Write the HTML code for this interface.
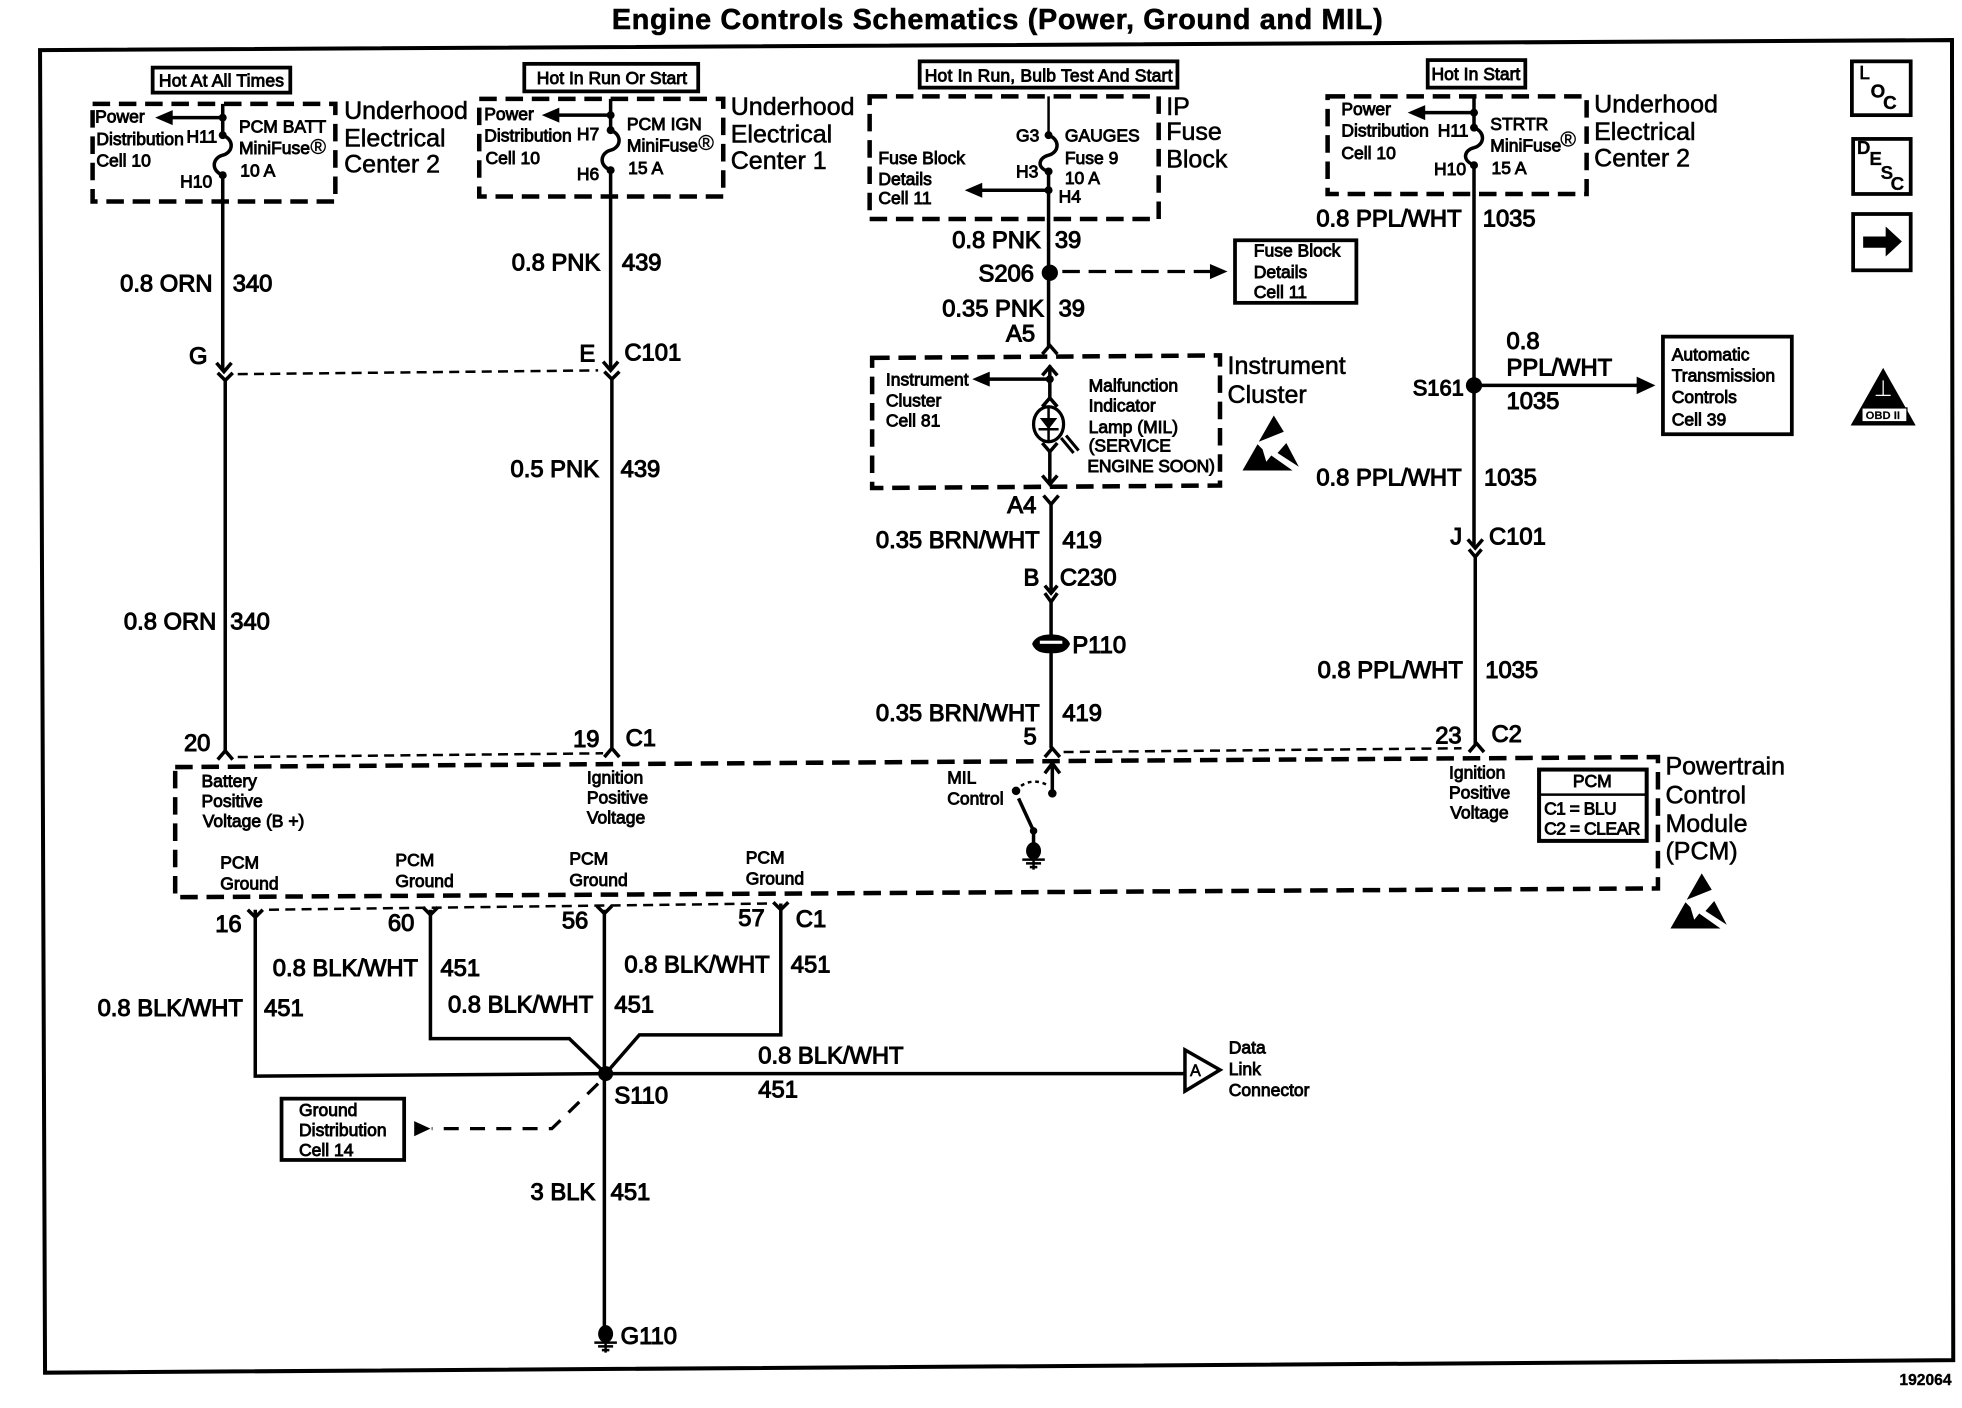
<!DOCTYPE html>
<html><head><meta charset="utf-8"><title>Engine Controls Schematics</title>
<style>
html,body{margin:0;padding:0;background:#fff}
svg{display:block}
text{font-family:"Liberation Sans",sans-serif;fill:#000;stroke:#000}
.s{font-size:14px;stroke-width:.7}
.m{font-size:19px;stroke-width:.85}
.l{font-size:20px;stroke-width:.45}
.w{fill:none;stroke:#000;stroke-width:2.8}
.t{fill:none;stroke:#000;stroke-width:2}
.d{fill:none;stroke:#000;stroke-width:3.6;stroke-dasharray:14 7}
.c{fill:none;stroke:#000;stroke-width:2;stroke-dasharray:8 5}
.b{fill:#fff;stroke:#000;stroke-width:3}
.f{fill:#000;stroke:none}
</style></head><body>
<svg xmlns="http://www.w3.org/2000/svg" width="1962" height="1408" viewBox="0 0 1568 1125.2">
<defs>
<g id="esd">
<path class="f" d="M26 0L34 13L14 21Z"/>
<path class="f" d="M36 22L46 41L29 30Z"/>
<path class="f" d="M13 23L1 44L41 44L24 32L20 37L17 27Z"/>
</g>
<g id="gnd">
<ellipse class="f" cx="0" cy="0" rx="6" ry="7"/>
<path fill="none" stroke="#000" stroke-width="2" d="M-9 7H9M-6 10H6M-3 13H3M0 6V15"/>
</g>
</defs>

<text x="489" y="23" font-size="23" font-weight="bold" textLength="616" style="stroke-width:.45">Engine Controls Schematics (Power, Ground and MIL)</text>
<path fill="none" stroke="#000" stroke-width="3.2" d="M32 40L1560 32L1561 1087L36 1097Z"/>
<text x="1518" y="1107" font-size="12.5" font-weight="bold" style="stroke-width:.3">192064</text>

<!-- hot labels -->
<rect class="b" x="122" y="54" width="110" height="20"/><text class="s" x="127" y="69" textLength="100">Hot At All Times</text>
<rect class="b" x="419" y="51" width="139" height="22"/><text class="s" x="429" y="67" textLength="120">Hot In Run Or Start</text>
<rect class="b" x="735" y="49" width="206" height="21"/><text class="s" x="739" y="65" textLength="198">Hot In Run, Bulb Test And Start</text>
<rect class="b" x="1141" y="48" width="78" height="22"/><text class="s" x="1144" y="64" textLength="71">Hot In Start</text>

<!-- dashed boxes -->
<path class="d" d="M74 83H268V161H74Z"/>
<path class="d" d="M383 79H578V157H383Z"/>
<path class="d" d="M695 77H926V175H695Z"/>
<path class="d" d="M1061 77H1268V155H1061Z"/>
<path class="d" d="M697 286L975 284V388L697 390Z"/>
<path class="d" d="M140 613L1325 605V710L140 717Z"/>

<!-- wire 340 -->
<path class="w" d="M178 83V108M178 140V296M180 303V601"/>
<path class="w" d="M178 108C188 112 186 122 178 124C170 126 168 136 178 140"/>
<circle class="f" cx="178" cy="94" r="3.2"/><circle class="f" cx="178" cy="108" r="3.2"/><circle class="f" cx="178" cy="140" r="3.2"/>
<path class="w" d="M178 94H132"/><path class="f" d="M124 94L138 88V100Z"/>
<path class="w" d="M173 290L179 297L185 290M174 298L180 304L186 298"/>
<path class="w" d="M174 607L180 600L186 607"/>

<!-- wire 439 -->
<path class="w" d="M488 79V104M488 136V295M489 302V599"/>
<path class="w" d="M488 104C498 108 496 118 488 120C480 122 478 132 488 136"/>
<circle class="f" cx="488" cy="92" r="3.2"/><circle class="f" cx="488" cy="104" r="3.2"/><circle class="f" cx="488" cy="136" r="3.2"/>
<path class="w" d="M488 92H441"/><path class="f" d="M433 92L447 86V98Z"/>
<path class="w" d="M482 289L488 296L494 289M483 297L489 303L495 297"/>
<path class="w" d="M483 605L489 598L495 605"/>
<path class="c" d="M190 299L478 296"/>
<path class="c" d="M190 605L482 602"/>

<!-- wire 39 / 419 -->
<path class="t" d="M838 77V108"/>
<path class="w" d="M838 137V278"/>
<path class="w" d="M838 108C848 112 846 122 838 124C830 126 828 134 838 137"/>
<circle class="f" cx="838" cy="108" r="3.2"/><circle class="f" cx="838" cy="137" r="3.2"/><circle class="f" cx="838" cy="152" r="3.2"/>
<path class="w" d="M838 152H780"/><path class="f" d="M771 152L785 146V158Z"/>
<circle class="f" cx="839" cy="218" r="6.5"/>
<path class="d" style="stroke-width:2.6" d="M849 217H968"/><path class="f" d="M981 217L967 211V223Z"/>
<path class="w" d="M833 283L839 276L845 283"/>
<path class="w" d="M839 292V318"/><path class="w" d="M833 300L839 293L845 300"/>
<circle class="f" cx="839" cy="303" r="3.2"/>
<path class="w" d="M839 303H786"/><path class="f" d="M777 303L791 297V309Z"/>
<path class="w" d="M833 325L839 318L845 325"/>
<ellipse cx="838" cy="339" rx="12" ry="14" fill="#fff" stroke="#000" stroke-width="2.6"/>
<path class="f" d="M831 334H845L838 343Z"/>
<path class="t" d="M838 326V352M830 343H846"/>
<path fill="none" stroke="#000" stroke-width="2.4" d="M848 350L858 362M852 348L862 360"/>
<path class="w" d="M833 354L839 361L845 354"/>
<path class="w" d="M839 361V387M833 380L839 387L845 380"/>
<path class="w" d="M834 396L840 403L846 396"/>
<path class="w" d="M840 403V472M835 468L840 474L845 468M835 474L840 481L845 474"/>
<path class="w" d="M840 481V508M840 520V598"/>
<path class="f" d="M825 514C828 508 835 507 840 507C845 507 852 508 855 514L855 515C852 522 845 522 840 522C835 522 828 522 825 515Z"/>
<rect x="831" y="512" width="18" height="2.5" fill="#fff"/>
<path class="w" d="M835 605L841 598L847 605"/>
<path class="c" d="M850 601L1168 598"/>

<!-- MIL control -->
<path class="w" d="M841 634V612M835 618L841 610L847 618"/>
<circle class="f" cx="841" cy="634" r="3.4"/>
<circle class="f" cx="812" cy="632" r="3.4"/>
<path fill="none" stroke="#000" stroke-width="2" stroke-dasharray="3 3" d="M816 628C822 624 830 623 838 628"/>
<path class="w" d="M814 638L826 664V680"/>
<circle class="f" cx="826" cy="664" r="3"/>
<use href="#gnd" x="826" y="680"/>

<!-- wire 1035 -->
<path class="w" d="M1178 76V102M1178 132V437M1179 444V595"/>
<path class="w" d="M1178 102C1188 106 1186 116 1178 118C1170 120 1168 128 1178 132"/>
<circle class="f" cx="1178" cy="90" r="3.2"/><circle class="f" cx="1178" cy="102" r="3.2"/><circle class="f" cx="1178" cy="132" r="3.2"/>
<path class="w" d="M1178 90H1134"/><path class="f" d="M1125 90L1139 84V96Z"/>
<circle class="f" cx="1178" cy="308" r="6.5"/>
<path class="w" d="M1178 308H1310"/><path class="f" d="M1323 308L1308 301V315Z"/>
<path class="w" d="M1173 431L1179 438L1185 431M1174 439L1179 445L1184 439"/>
<path class="w" d="M1174 601L1180 594L1186 601"/>

<!-- ground wires -->
<path class="w" d="M204 727V860L484 858H946"/>
<path class="w" d="M344 727V830H455L484 858"/>
<path class="w" d="M483 727V1060"/>
<path class="w" d="M624 722V827H511L484 858"/>
<path class="w" d="M198 727L204 733L210 727M338 725L344 731L350 725M477 724L483 730L489 724M618 721L624 727L630 721"/>
<path class="c" d="M215 727L618 722"/>
<circle class="f" cx="484" cy="858" r="6"/>
<path class="d" style="stroke-width:2.6;stroke-dasharray:12 9" d="M478 866L441 902H345"/>
<path class="f" d="M344 902L331 896V908Z"/>
<path fill="#fff" stroke="#000" stroke-width="2.8" d="M947 839L975 855L947 872Z"/>
<text x="951" y="860" font-size="13" style="stroke-width:.5">A</text>
<use href="#gnd" x="484" y="1066"/>

<!-- boxes -->
<rect class="b" x="987" y="192" width="97" height="50"/>
<rect class="b" x="1329" y="269" width="103" height="78"/>
<rect class="b" x="225" y="878" width="98" height="49"/>
<rect x="1230" y="615" width="86" height="57" fill="#fff" stroke="#000" stroke-width="3.2"/>
<path class="t" d="M1230 635H1316"/>

<rect class="b" x="1480" y="49" width="47" height="43"/>
<rect class="b" x="1481" y="111" width="46" height="44"/>
<rect class="b" x="1481" y="171" width="46" height="45"/>
<text x="1486" y="63" font-size="15" style="stroke-width:.6">L</text>
<text x="1495" y="78" font-size="15" font-weight="bold" style="stroke-width:.3">O</text>
<text x="1505" y="87" font-size="15" font-weight="bold" style="stroke-width:.3">C</text>
<text x="1484" y="123" font-size="15" font-weight="bold" style="stroke-width:.2">D</text>
<text x="1494" y="132" font-size="15" font-weight="bold" style="stroke-width:.2">E</text>
<text x="1503" y="143" font-size="15" font-weight="bold" style="stroke-width:.2">S</text>
<text x="1511" y="152" font-size="15" font-weight="bold" style="stroke-width:.2">C</text>
<path class="f" d="M1489 189H1507V181L1520 193L1507 205V198H1489Z"/>
<path class="f" d="M1505 294L1531 340H1479Z"/>
<rect x="1488" y="326" width="36" height="11" fill="#fff" stroke="#000"/>
<path fill="none" stroke="#fff" stroke-width="1" d="M1499 316H1511M1505 304V316"/>
<text x="1491" y="335" font-size="9" font-weight="bold" style="stroke-width:.1">OBD II</text>

<use href="#esd" x="992" y="332"/>
<use href="#esd" x="1334" y="698"/>

<!-- large labels -->
<text class="l" x="275" y="95">Underhood</text><text class="l" x="275" y="117">Electrical</text><text class="l" x="275" y="138">Center 2</text>
<text class="l" x="584" y="92">Underhood</text><text class="l" x="584" y="114">Electrical</text><text class="l" x="584" y="135">Center 1</text>
<text class="l" x="932" y="92">IP</text><text class="l" x="932" y="112">Fuse</text><text class="l" x="932" y="134">Block</text>
<text class="l" x="981" y="299">Instrument</text><text class="l" x="981" y="322">Cluster</text>
<text class="l" x="1274" y="90">Underhood</text><text class="l" x="1274" y="112">Electrical</text><text class="l" x="1274" y="133">Center 2</text>
<text class="l" x="1331" y="619">Powertrain</text><text class="l" x="1331" y="642">Control</text><text class="l" x="1331" y="665">Module</text><text class="l" x="1331" y="687">(PCM)</text>

<!-- wire labels -->
<text class="m" x="96" y="233">0.8 ORN</text><text class="m" x="186" y="233">340</text>
<text class="m" x="409" y="216">0.8 PNK</text><text class="m" x="497" y="216">439</text>
<text class="m" x="151" y="291">G</text><text class="m" x="463" y="289">E</text><text class="m" x="499" y="288">C101</text>
<text class="m" x="408" y="381">0.5 PNK</text><text class="m" x="496" y="381">439</text>
<text class="m" x="99" y="503">0.8 ORN</text><text class="m" x="184" y="503">340</text>
<text class="m" x="147" y="600">20</text><text class="m" x="458" y="597">19</text><text class="m" x="500" y="596">C1</text>
<text class="m" x="761" y="198">0.8 PNK</text><text class="m" x="843" y="198">39</text>
<text class="m" x="782" y="225">S206</text>
<text class="m" x="753" y="253">0.35 PNK</text><text class="m" x="846" y="253">39</text>
<text class="m" x="804" y="273">A5</text>
<text class="m" x="805" y="410">A4</text>
<text class="m" x="700" y="438">0.35 BRN/WHT</text><text class="m" x="849" y="438">419</text>
<text class="m" x="818" y="468">B</text><text class="m" x="847" y="468">C230</text>
<text class="m" x="857" y="522">P110</text>
<text class="m" x="700" y="576">0.35 BRN/WHT</text><text class="m" x="849" y="576">419</text>
<text class="m" x="818" y="595">5</text>
<text class="m" x="1052" y="181">0.8 PPL/WHT</text><text class="m" x="1185" y="181">1035</text>
<text class="m" x="1204" y="279">0.8</text><text class="m" x="1204" y="300">PPL/WHT</text><text class="m" x="1204" y="327">1035</text>
<text class="m" x="1129" y="316" style="font-size:17.5px">S161</text>
<text class="m" x="1052" y="388">0.8 PPL/WHT</text><text class="m" x="1186" y="388">1035</text>
<text class="m" x="1159" y="435">J</text><text class="m" x="1190" y="435">C101</text>
<text class="m" x="1053" y="542">0.8 PPL/WHT</text><text class="m" x="1187" y="542">1035</text>
<text class="m" x="1147" y="594">23</text><text class="m" x="1192" y="593">C2</text>
<text class="m" x="172" y="745">16</text><text class="m" x="310" y="744">60</text><text class="m" x="449" y="742">56</text><text class="m" x="590" y="740">57</text><text class="m" x="636" y="741">C1</text>
<text class="m" x="218" y="780">0.8 BLK/WHT</text><text class="m" x="352" y="780">451</text>
<text class="m" x="78" y="812">0.8 BLK/WHT</text><text class="m" x="211" y="812">451</text>
<text class="m" x="358" y="809">0.8 BLK/WHT</text><text class="m" x="491" y="809">451</text>
<text class="m" x="499" y="777">0.8 BLK/WHT</text><text class="m" x="632" y="777">451</text>
<text class="m" x="606" y="850">0.8 BLK/WHT</text><text class="m" x="606" y="877">451</text>
<text class="m" x="491" y="882">S110</text>
<text class="m" x="424" y="959">3 BLK</text><text class="m" x="488" y="959">451</text>
<text class="m" x="496" y="1074">G110</text>

<!-- small labels -->
<text class="s" x="76" y="98">Power</text><text class="s" x="77" y="116">Distribution</text><text class="s" x="77" y="133">Cell 10</text>
<text class="s" x="149" y="114">H11</text><text class="s" x="144" y="150">H10</text>
<text class="s" x="191" y="106">PCM BATT</text><text class="s" x="191" y="123">MiniFuse</text><text x="248" y="123" font-size="17" style="stroke-width:.3">®</text><text class="s" x="192" y="141">10 A</text>
<text class="s" x="387" y="96">Power</text><text class="s" x="387" y="113">Distribution</text><text class="s" x="388" y="131">Cell 10</text>
<text class="s" x="461" y="112">H7</text><text class="s" x="461" y="144">H6</text>
<text class="s" x="501" y="104">PCM IGN</text><text class="s" x="501" y="121">MiniFuse</text><text x="558" y="120" font-size="17" style="stroke-width:.3">®</text><text class="s" x="502" y="139">15 A</text>
<text class="s" x="702" y="131">Fuse Block</text><text class="s" x="702" y="148">Details</text><text class="s" x="702" y="163">Cell 11</text>
<text class="s" x="812" y="113">G3</text><text class="s" x="812" y="142">H3</text><text class="s" x="846" y="162">H4</text>
<text class="s" x="851" y="113">GAUGES</text><text class="s" x="851" y="131">Fuse 9</text><text class="s" x="851" y="147">10 A</text>
<text class="s" x="1072" y="92">Power</text><text class="s" x="1072" y="109">Distribution</text><text class="s" x="1072" y="127">Cell 10</text>
<text class="s" x="1149" y="109">H11</text><text class="s" x="1146" y="140">H10</text>
<text class="s" x="1191" y="104">STRTR</text><text class="s" x="1191" y="121">MiniFuse</text><text x="1247" y="117" font-size="17" style="stroke-width:.3">®</text><text class="s" x="1192" y="139">15 A</text>
<text class="s" x="708" y="308">Instrument</text><text class="s" x="708" y="325">Cluster</text><text class="s" x="708" y="341">Cell 81</text>
<text class="s" x="870" y="313">Malfunction</text><text class="s" x="870" y="329">Indicator</text><text class="s" x="870" y="346">Lamp (MIL)</text><text class="s" x="870" y="361">(SERVICE</text><text class="s" x="869" y="377" textLength="102">ENGINE SOON)</text>
<text class="s" x="1002" y="205">Fuse Block</text><text class="s" x="1002" y="222">Details</text><text class="s" x="1002" y="238">Cell 11</text>
<text class="s" x="1336" y="288">Automatic</text><text class="s" x="1336" y="305">Transmission</text><text class="s" x="1336" y="322">Controls</text><text class="s" x="1336" y="340">Cell 39</text>
<text class="s" x="161" y="629">Battery</text><text class="s" x="161" y="645">Positive</text><text class="s" x="162" y="661">Voltage (B +)</text>
<text class="s" x="469" y="626">Ignition</text><text class="s" x="469" y="642">Positive</text><text class="s" x="469" y="658">Voltage</text>
<text class="s" x="757" y="626">MIL</text><text class="s" x="757" y="643">Control</text>
<text class="s" x="1158" y="622">Ignition</text><text class="s" x="1158" y="638">Positive</text><text class="s" x="1159" y="654">Voltage</text>
<text class="s" x="176" y="694">PCM</text><text class="s" x="176" y="711">Ground</text>
<text class="s" x="316" y="692">PCM</text><text class="s" x="316" y="709">Ground</text>
<text class="s" x="455" y="691">PCM</text><text class="s" x="455" y="708">Ground</text>
<text class="s" x="596" y="690">PCM</text><text class="s" x="596" y="707">Ground</text>
<text class="s" x="1257" y="629">PCM</text><text class="s" x="1234" y="651" textLength="58">C1 = BLU</text><text class="s" x="1234" y="667" textLength="77">C2 = CLEAR</text>
<text class="s" x="982" y="842">Data</text><text class="s" x="982" y="859">Link</text><text class="s" x="982" y="876">Connector</text>
<text class="s" x="239" y="892">Ground</text><text class="s" x="239" y="908">Distribution</text><text class="s" x="239" y="924">Cell 14</text>
</svg>
</body></html>
